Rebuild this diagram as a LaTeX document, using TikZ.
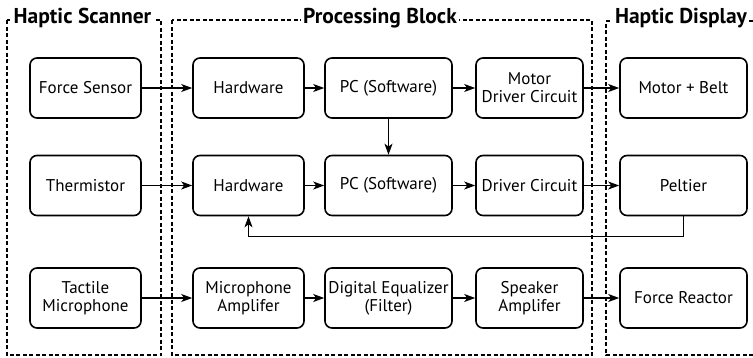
\documentclass[tikz,border=0pt]{standalone}
\usepackage{fontspec}
\setmainfont{PT Sans}
\usetikzlibrary{arrows.meta}
\begin{document}
\begin{tikzpicture}[x=1pt,y=-1pt,
 blk/.style={draw, line width=1.6pt, rounded corners=7pt, align=center, font=\fontsize{17}{18}\selectfont, inner sep=1pt},
 w1/.style={minimum width=111pt},
 w2/.style={minimum width=127pt},
 w3/.style={minimum width=107pt},
 h/.style={minimum height=60pt},
 arr/.style={line width=1.3pt, -{Stealth[length=11pt,width=8pt,inset=3pt]}},
 grp/.style={dash pattern=on 4pt off 2.5pt, line width=1.6pt},
 ttl/.style={fill=white, font=\bfseries\fontsize{21.5}{23}\selectfont, inner sep=2pt}]
\useasboundingbox (0,0) rectangle (753,357);
% groups
\draw[grp] (7,20) rectangle (161,355);
\draw[grp] (172,20) rectangle (592,355);
\draw[grp] (753,21) -- (606,21) -- (606,355) -- (753,355);
\node[ttl] (t1) at (82.5,18) {Haptic Scanner};
\node[ttl] (t2) at (380,18) {Processing Block};
\node[ttl] (t3) at (681,18) {Haptic Display};
% row 1
\node[blk,w1,h] (fs) at (85.5,88) {Force Sensor};
\node[blk,w1,h] (hw1) at (248.5,88) {Hardware};
\node[blk,w2,h] (pc1) at (388.5,88) {PC (Software)};
\node[blk,w3,h] (md) at (529.5,88) {Motor\\Driver Circuit};
\node[blk,w2,h] (mb) at (683.5,88) {Motor + Belt};
% row 2
\node[blk,w1,h] (th) at (85.5,185.5) {Thermistor};
\node[blk,w1,h] (hw2) at (248.5,185.5) {Hardware};
\node[blk,w2,h] (pc2) at (388.5,185.5) {PC (Software)};
\node[blk,w3,h] (dc) at (529.5,185.5) {Driver Circuit};
\node[blk,w2,h] (pel) at (683.5,185.5) {Peltier};
% row 3
\node[blk,w1,h] (tm) at (85.5,298) {Tactile\\Microphone};
\node[blk,w1,h] (ma) at (248.5,298) {Microphone\\Amplifer};
\node[blk,w2,h] (de) at (388.5,298) {Digital Equalizer\\(Filter)};
\node[blk,w3,h] (sa) at (529.5,298) {Speaker\\Amplifer};
\node[blk,w2,h] (fr) at (683.5,298) {Force Reactor};
% arrows
\draw[arr] (fs) -- (hw1);
\draw[arr] (hw1) -- (pc1);
\draw[arr] (pc1) -- (md);
\draw[arr] (md) -- (mb);
\draw[arr] (pc1) -- (pc2);
\draw[arr] (th) -- (hw2);
\draw[arr] (hw2) -- (pc2);
\draw[arr] (pc2) -- (dc);
\draw[arr] (dc) -- (pel);
\draw[arr] (pel.south) -- ++(0,20) -| (hw2.south);
\draw[arr] (tm) -- (ma);
\draw[arr] (ma) -- (de);
\draw[arr] (de) -- (sa);
\draw[arr] (sa) -- (fr);
\end{tikzpicture}
\end{document}
